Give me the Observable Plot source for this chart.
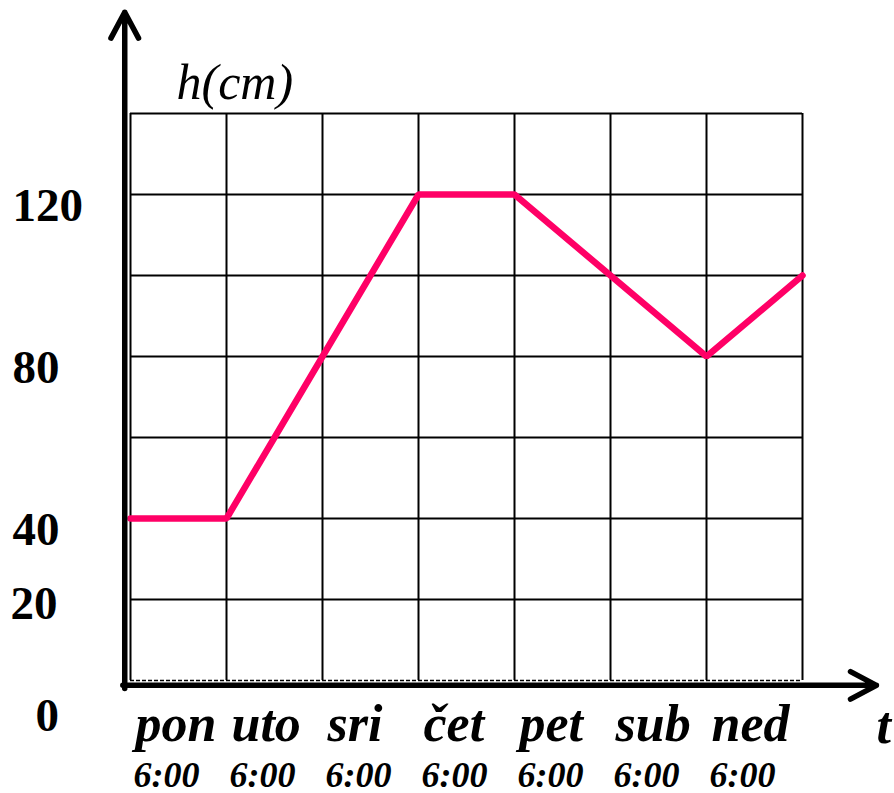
<!DOCTYPE html>
<html><head><meta charset="utf-8">
<script src="https://cdn.jsdelivr.net/npm/d3@7"></script>
<script src="https://cdn.jsdelivr.net/npm/@observablehq/plot@0.6"></script>
<style>body{margin:0;background:#fff}</style>
</head><body><div id="chart"></div>
<script>
// ---- data ----
const days = ["pon", "uto", "sri", "čet", "pet", "sub", "ned"];
const timeLabel = "6:00";
const positions = [0, 1, 2, 3, 4, 5, 6, 7];
const heights = [40, 40, 80, 120, 120, 100, 80, 100];
const gridX = [0, 1, 2, 3, 4, 5, 6, 7];
const gridY = [20, 40, 60, 80, 100, 120, 140];
const tickMain = [120, 80, 40];
const tickTwenty = [20];
const tickZero = [0];
const yTitle = "h(cm)";
const xTitle = "t";
// axis extents in data units
const xDomain = [0, 7];
const yDomain = [0, 140];
const vAxis = [{x1: -0.06, y1: -2, x2: -0.06, y2: 165}];
const hAxis = [{x1: -0.08, y1: -1.2, x2: 7.77, y2: -1.2}];
const xTitlePos = 7.77;

const serif = "'Liberation Serif', 'Times New Roman', serif";

const chart = Plot.plot({
  width: 894, height: 793,
  marginLeft: 130, marginRight: 92, marginTop: 113, marginBottom: 113,
  x: {domain: xDomain, axis: null},
  y: {domain: yDomain, axis: null},
  style: {background: "white", fontFamily: serif, color: "black", overflow: "visible"},
  marks: [
    Plot.ruleX(gridX, {x: d => d, y1: 0, y2: 140, stroke: "black", strokeWidth: 2}),
    Plot.ruleY(gridY, {y: d => d, x1: 0, x2: 7, stroke: "black", strokeWidth: 2}),
    Plot.ruleY([0], {y: d => d, x1: 0, x2: 7, stroke: "black", strokeWidth: 1.5, strokeDasharray: "4,2"}),
    Plot.line(positions, {x: d => d, y: (d, i) => heights[i], stroke: "#ff0066", strokeWidth: 6.5, strokeLinejoin: "miter"}),
    Plot.arrow(vAxis, {x1: "x1", y1: "y1", x2: "x2", y2: "y2", stroke: "black", strokeWidth: 5.5, headLength: 8, headAngle: 56}),
    Plot.arrow(hAxis, {x1: "x1", y1: "y1", x2: "x2", y2: "y2", stroke: "black", strokeWidth: 5.5, headLength: 8, headAngle: 56}),
    Plot.text(tickMain, {y: d => d, text: d => String(d), frameAnchor: "left", dx: -118, dy: 26, textAnchor: "start", lineAnchor: "bottom", fontSize: 47, fontWeight: "bold", fill: "black"}),
    Plot.text(tickTwenty, {y: d => d, text: d => String(d), frameAnchor: "left", dx: -120, dy: 19, textAnchor: "start", lineAnchor: "bottom", fontSize: 47, fontWeight: "bold", fill: "black"}),
    Plot.text(tickZero, {y: d => d, text: d => String(d), frameAnchor: "left", dx: -95, dy: 50, textAnchor: "start", lineAnchor: "bottom", fontSize: 47, fontWeight: "bold", fill: "black"}),
    Plot.text(days, {x: (d, i) => i, text: d => d, frameAnchor: "bottom", dx: 5, dy: 60, textAnchor: "start", lineAnchor: "bottom", fontSize: 52, fontWeight: "bold", fontStyle: "italic", fill: "black"}),
    Plot.text(days, {x: (d, i) => i, text: () => timeLabel, frameAnchor: "bottom", dx: 3, dy: 106, textAnchor: "start", lineAnchor: "bottom", fontSize: 36, fontWeight: "bold", fontStyle: "italic", fill: "black"}),
    Plot.text([xTitle], {x: xTitlePos, text: d => d, frameAnchor: "bottom", dy: 62, textAnchor: "start", lineAnchor: "bottom", fontSize: 52, fontWeight: "bold", fontStyle: "italic", fill: "black"}),
    Plot.text([yTitle], {text: d => d, frameAnchor: "top-left", dx: 46, dy: -15, textAnchor: "start", lineAnchor: "bottom", fontSize: 50, fontStyle: "italic", fill: "black"})
  ]
});
document.getElementById("chart").appendChild(chart);
</script>
</body></html>
